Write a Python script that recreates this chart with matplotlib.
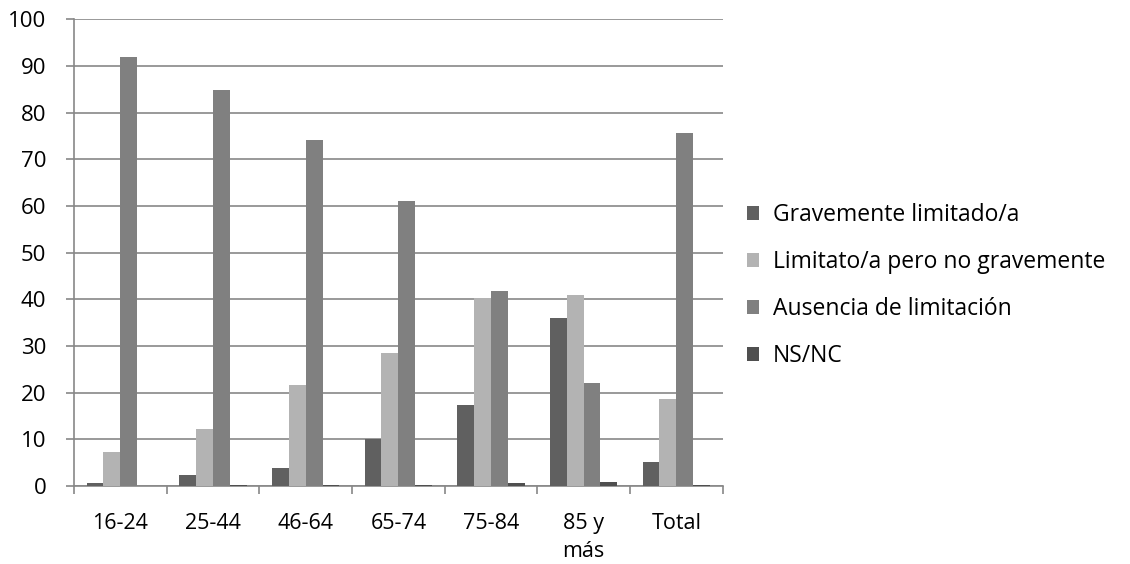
import numpy as np
import matplotlib
matplotlib.use("Agg")
import matplotlib.pyplot as plt

categories = ["16-24", "25-44", "46-64", "65-74", "75-84", "85 y\nmás", "Total"]
series_names = ["Gravemente limitado/a", "Limitato/a pero no gravemente",
                "Ausencia de limitación", "NS/NC"]
gravemente = [0.7, 2.3, 3.8, 10.0, 17.3, 36.1, 5.2]
limitado = [7.4, 12.3, 21.6, 28.6, 40.2, 40.9, 18.6]
ausencia = [91.8, 84.9, 74.2, 61.0, 41.7, 22.1, 75.7]
nsnc = [0.1, 0.3, 0.3, 0.3, 0.7, 0.8, 0.3]
colors = ["#606060", "#b3b3b3", "#808080", "#4f4f4f"]

plt.rcParams["font.family"] = ["Open Sans", "DejaVu Sans"]

fig = plt.figure(figsize=(11.3, 5.64), dpi=100)
ax = fig.add_axes([0.0655, 0.138, 0.574, 0.828])

x = np.arange(len(categories))
w = 1 / 5.5
for i, vals in enumerate([gravemente, limitado, ausencia, nsnc]):
    ax.bar(x + (i - 1.5) * w, vals, width=w, color=colors[i],
           label=series_names[i], zorder=3)

ax.set_xlim(-0.5, len(categories) - 0.5)
ax.set_ylim(0, 100)
ax.set_yticks(range(0, 101, 10))
ax.yaxis.grid(True, color="#878787", linewidth=1.2, zorder=0)
ax.set_xticks(x)
ax.set_xticklabels(categories, fontsize=15.5, linespacing=1.45)
ax.set_xticks(np.arange(-0.5, len(categories)), minor=True)
ax.tick_params(axis="x", which="major", length=0, pad=19)
ax.tick_params(axis="x", which="minor", length=6, color="#878787", width=1.2)
ax.tick_params(axis="y", length=6, color="#878787", width=1.2, labelsize=16, pad=14)
for s in ["top", "right"]:
    ax.spines[s].set_visible(False)
for s in ["left", "bottom"]:
    ax.spines[s].set_color("#878787")
    ax.spines[s].set_linewidth(1.2)

ax.legend(loc="center left", bbox_to_anchor=(1.005, 0.43), frameon=False,
          fontsize=16.5, labelspacing=1.0, handlelength=0.55, handleheight=0.55,
          handletextpad=0.6)

fig.savefig("out.png", dpi=100)
